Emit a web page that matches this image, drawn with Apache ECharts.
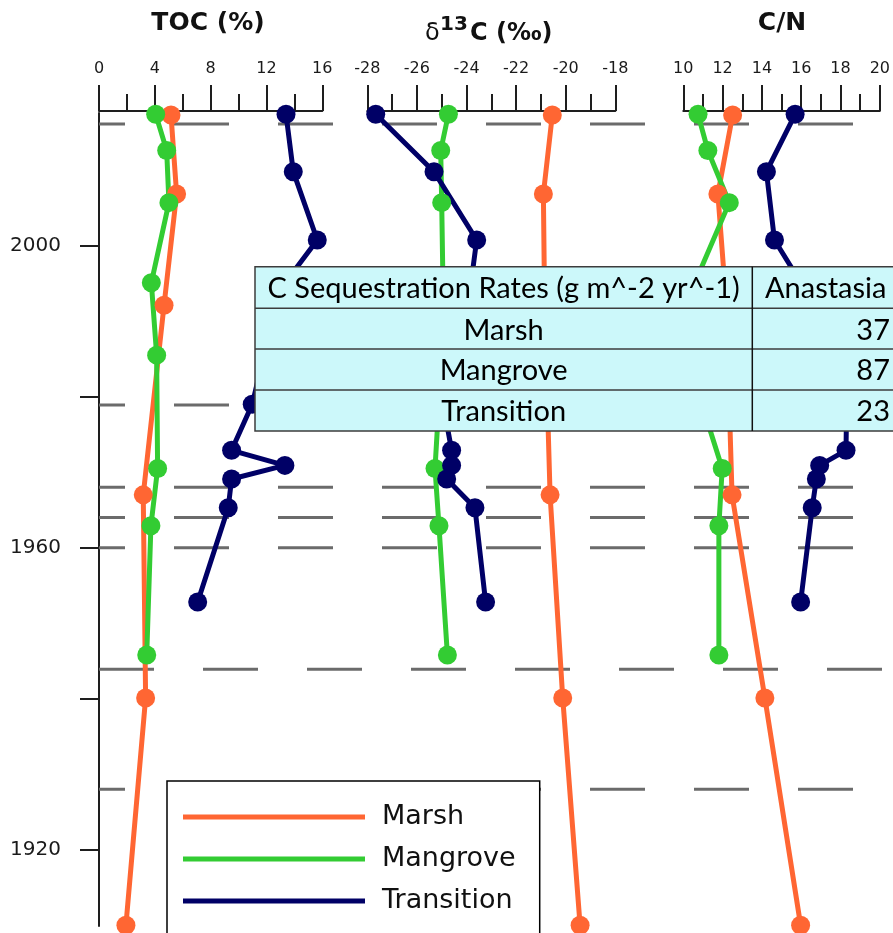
<!DOCTYPE html>
<html>
<head>
<meta charset="utf-8">
<script src="https://cdn.jsdelivr.net/npm/echarts@6/dist/echarts.min.js"></script>
<style>
  html, body { margin: 0; padding: 0; background: #ffffff; }
  #chart { width: 893px; height: 933px; }
</style>
</head>
<body>
<div id="chart"></div>
<script>
// ---- Core profiles (sample year vs. proxy) ----
const marshYears = [2017.3, 2006.85, 1992.1, 1967.0, 1940.1, 1910.0];
const marshTOC   = [5.16, 5.56, 4.66, 3.17, 3.34, 1.93];
const marshD13C  = [-20.54, -20.90, -20.85, -20.63, -20.12, -19.42];
const marshCN    = [12.51, 11.76, 12.19, 12.48, 14.15, 15.97];

const mangroveYears = [2017.4, 2012.6, 2005.7, 1995.1, 1985.5, 1970.5, 1962.9, 1945.8];
const mangroveTOC   = [4.06, 4.85, 5.01, 3.75, 4.13, 4.20, 3.72, 3.42];
const mangroveD13C  = [-24.73, -25.04, -25.00, -24.95, -25.00, -25.27, -25.11, -24.77];
const mangroveCN    = [10.75, 11.25, 12.34, 10.59, 10.16, 11.98, 11.81, 11.81];

const transitionYears = [2017.4, 2009.8, 2000.75, 1994.0, 1979.0, 1972.9, 1970.9, 1969.1, 1965.3, 1952.8];
const transitionTOC   = [13.40, 13.92, 15.64, 12.90, 10.98, 9.50, 13.32, 9.50, 9.26, 7.07];
const transitionD13C  = [-27.66, -25.31, -23.59, -23.86, -24.94, -24.60, -24.60, -24.80, -23.66, -23.23];
const transitionCN    = [15.69, 14.23, 14.64, 16.24, 18.31, 18.28, 16.94, 16.77, 16.56, 15.97];

// Dated horizons drawn as dashed lines across all panels
const horizonYears = [2016.1, 1978.9, 1968.0, 1964.0, 1960.0, 1943.9, 1928.0];

// Axis ticks
const yearTicks  = [1920, 1940, 1960, 1980, 2000];
const yearLabels = [1920, 1960, 2000];

// Series names
const siteNames = ['Marsh', 'Mangrove', 'Transition'];

// Summary table
const tableHeader = ['C Sequestration Rates (g m^-2 yr^-1)', 'Anastasia'];
const rateSites   = ['Marsh', 'Mangrove', 'Transition'];
const rateValues  = [37, 87, 23];

// ---- styling ----
const siteColors = { Marsh: '#ff6633', Mangrove: '#33cc33', Transition: '#000066' };
const horizonDashOffsets = [29, 29, 29, 29, 29, 0, 29];
const YMIN = 1909.9, YMAX = 2017.57;
const TOP = 113, HEIGHT = 813;
const axisColor = '#1e1e1e';
const labelFont = 'DejaVu Sans';

const panels = [
  { left: 99,    width: 223.3, min: 0,   max: 16,  interval: 4 },
  { left: 367.3, width: 248,   min: -28, max: -18, interval: 2 },
  { left: 683.3, width: 199.3, min: 10,  max: 20,  interval: 2 }
];

const grids = panels.map(p => ({ left: p.left, top: TOP, width: p.width, height: HEIGHT }));
grids.push({ left: 99, top: TOP, width: 820, height: HEIGHT }); // horizon lines

const xAxes = panels.map((p, i) => ({
  gridIndex: i, type: 'value', position: 'top', offset: 2,
  min: p.min, max: p.max, interval: p.interval,
  axisLine: { show: true, onZero: false, lineStyle: { color: axisColor, width: 2 } },
  axisTick: { show: true, length: 26, lineStyle: { color: axisColor, width: 2 } },
  minorTick: { show: true, splitNumber: 2, length: 17, lineStyle: { color: axisColor, width: 2 } },
  axisLabel: { fontFamily: labelFont, fontSize: 16, color: '#1a1a1a', margin: 34 },
  splitLine: { show: false }, minorSplitLine: { show: false }
}));
xAxes.push({ gridIndex: 3, type: 'value', min: 0, max: 1, show: false });

const yAxes = [0, 1, 2, 3].map(i => ({
  gridIndex: i, type: 'value', min: YMIN, max: YMAX, show: i === 0,
  axisLine: { show: true, onZero: false, lineStyle: { color: axisColor, width: 2 } },
  axisTick: { show: true, length: 19, customValues: yearTicks, lineStyle: { color: axisColor, width: 2 } },
  axisLabel: { customValues: yearLabels, formatter: v => String(Math.round(v)),
    fontFamily: labelFont, fontSize: 20, color: '#1a1a1a', margin: 38 },
  splitLine: { show: false }
}));

function profile(name, xs, ys, idx) {
  const c = siteColors[name];
  return {
    type: 'line', name: name, xAxisIndex: idx, yAxisIndex: idx,
    data: xs.map((v, k) => [v, ys[k]]),
    symbol: 'circle', symbolSize: 19, clip: false, z: 3,
    lineStyle: { color: c, width: 5 }, itemStyle: { color: c },
    animation: false
  };
}

const series = [];
horizonYears.forEach((yr, k) => {
  series.push({
    type: 'line', name: 'horizon' + k, xAxisIndex: 3, yAxisIndex: 3,
    data: [[0, yr], [1, yr]], symbol: 'none', silent: true, z: 1,
    lineStyle: { color: '#6b6b6b', width: 3, type: [55, 49], dashOffset: horizonDashOffsets[k], cap: 'butt' },
    animation: false
  });
});
const profiles = [
  [marshYears, marshTOC, marshD13C, marshCN],
  [mangroveYears, mangroveTOC, mangroveD13C, mangroveCN],
  [transitionYears, transitionTOC, transitionD13C, transitionCN]
];
profiles.forEach((p, s) => {
  series.push(profile(siteNames[s], p[1], p[0], 0));
  series.push(profile(siteNames[s], p[2], p[0], 1));
  series.push(profile(siteNames[s], p[3], p[0], 2));
});

// ---- titles ----
const titleFont = { fontFamily: labelFont, fontWeight: 'bold', fill: '#111' };
const graphics = [
  { type: 'text', z: 100, x: 208, y: 23, style: Object.assign({ text: 'TOC (%)', fontSize: 25, align: 'center', verticalAlign: 'middle' }, titleFont) },
  { type: 'text', z: 100, x: 425, y: 34, style: { text: 'δ', fontFamily: labelFont, fontSize: 24, fill: '#111', align: 'left', verticalAlign: 'middle' } },
  { type: 'text', z: 100, x: 440, y: 25, style: Object.assign({ text: '13', fontSize: 20, align: 'left', verticalAlign: 'middle' }, titleFont) },
  { type: 'text', z: 100, x: 470, y: 34, style: Object.assign({ text: 'C (‰)', fontSize: 24, align: 'left', verticalAlign: 'middle' }, titleFont) },
  { type: 'text', z: 100, x: 782, y: 23, style: Object.assign({ text: 'C/N', fontSize: 25, align: 'center', verticalAlign: 'middle' }, titleFont) }
];

// ---- summary table ----
const tLeft = 255, tDiv = 752.3, tRight = 980;
const rowEdges = [266.7, 308.3, 349, 390, 431];
const cellFill = '#ccf8fa', gridLine = '#3c3c3c';
graphics.push({ type: 'rect', z: 100, shape: { x: tLeft, y: rowEdges[0], width: tRight - tLeft, height: rowEdges[4] - rowEdges[0] },
  style: { fill: cellFill, stroke: gridLine, lineWidth: 1.5 } });
for (let r = 1; r < rowEdges.length - 1; r++) {
  graphics.push({ type: 'line', z: 101, shape: { x1: tLeft, y1: rowEdges[r], x2: tRight, y2: rowEdges[r] },
    style: { stroke: gridLine, lineWidth: 1.5 } });
}
graphics.push({ type: 'line', z: 101, shape: { x1: tDiv, y1: rowEdges[0], x2: tDiv, y2: rowEdges[4] },
  style: { stroke: '#111', lineWidth: 1.5 } });
const tableFont = 'Lato';
const tableSize = 29;
const rowMid = r => (rowEdges[r] + rowEdges[r + 1]) / 2 + 1.5;
graphics.push({ type: 'text', z: 102, x: (tLeft + tDiv) / 2, y: rowMid(0),
  style: { text: tableHeader[0], fontFamily: tableFont, fontSize: tableSize, fill: '#000', align: 'center', verticalAlign: 'middle' } });
graphics.push({ type: 'text', z: 102, x: 765, y: rowMid(0),
  style: { text: tableHeader[1], fontFamily: tableFont, fontSize: tableSize, fill: '#000', align: 'left', verticalAlign: 'middle' } });
rateSites.forEach((s, k) => {
  graphics.push({ type: 'text', z: 102, x: (tLeft + tDiv) / 2, y: rowMid(k + 1),
    style: { text: s, fontFamily: tableFont, fontSize: tableSize, fill: '#000', align: 'center', verticalAlign: 'middle' } });
  graphics.push({ type: 'text', z: 102, x: 890, y: rowMid(k + 1),
    style: { text: String(rateValues[k]), fontFamily: tableFont, fontSize: tableSize, fill: '#000', align: 'right', verticalAlign: 'middle' } });
});

const chart = echarts.init(document.getElementById('chart'), null, { renderer: 'canvas' });
chart.setOption({
  animation: false,
  backgroundColor: '#ffffff',
  grid: grids,
  xAxis: xAxes,
  yAxis: yAxes,
  legend: {
    data: siteNames, orient: 'vertical', left: 167, top: 781, height: 240,
    padding: [19, 24, 30, 16], itemWidth: 182, itemHeight: 5, itemGap: 8,
    icon: 'rect', selectedMode: false,
    backgroundColor: '#ffffff', borderColor: '#000000', borderWidth: 1.5,
    textStyle: { fontFamily: labelFont, fontSize: 27, color: '#111', lineHeight: 34, padding: [0, 0, 0, 12] }
  },
  series: series,
  graphic: graphics
});
</script>
</body>
</html>
